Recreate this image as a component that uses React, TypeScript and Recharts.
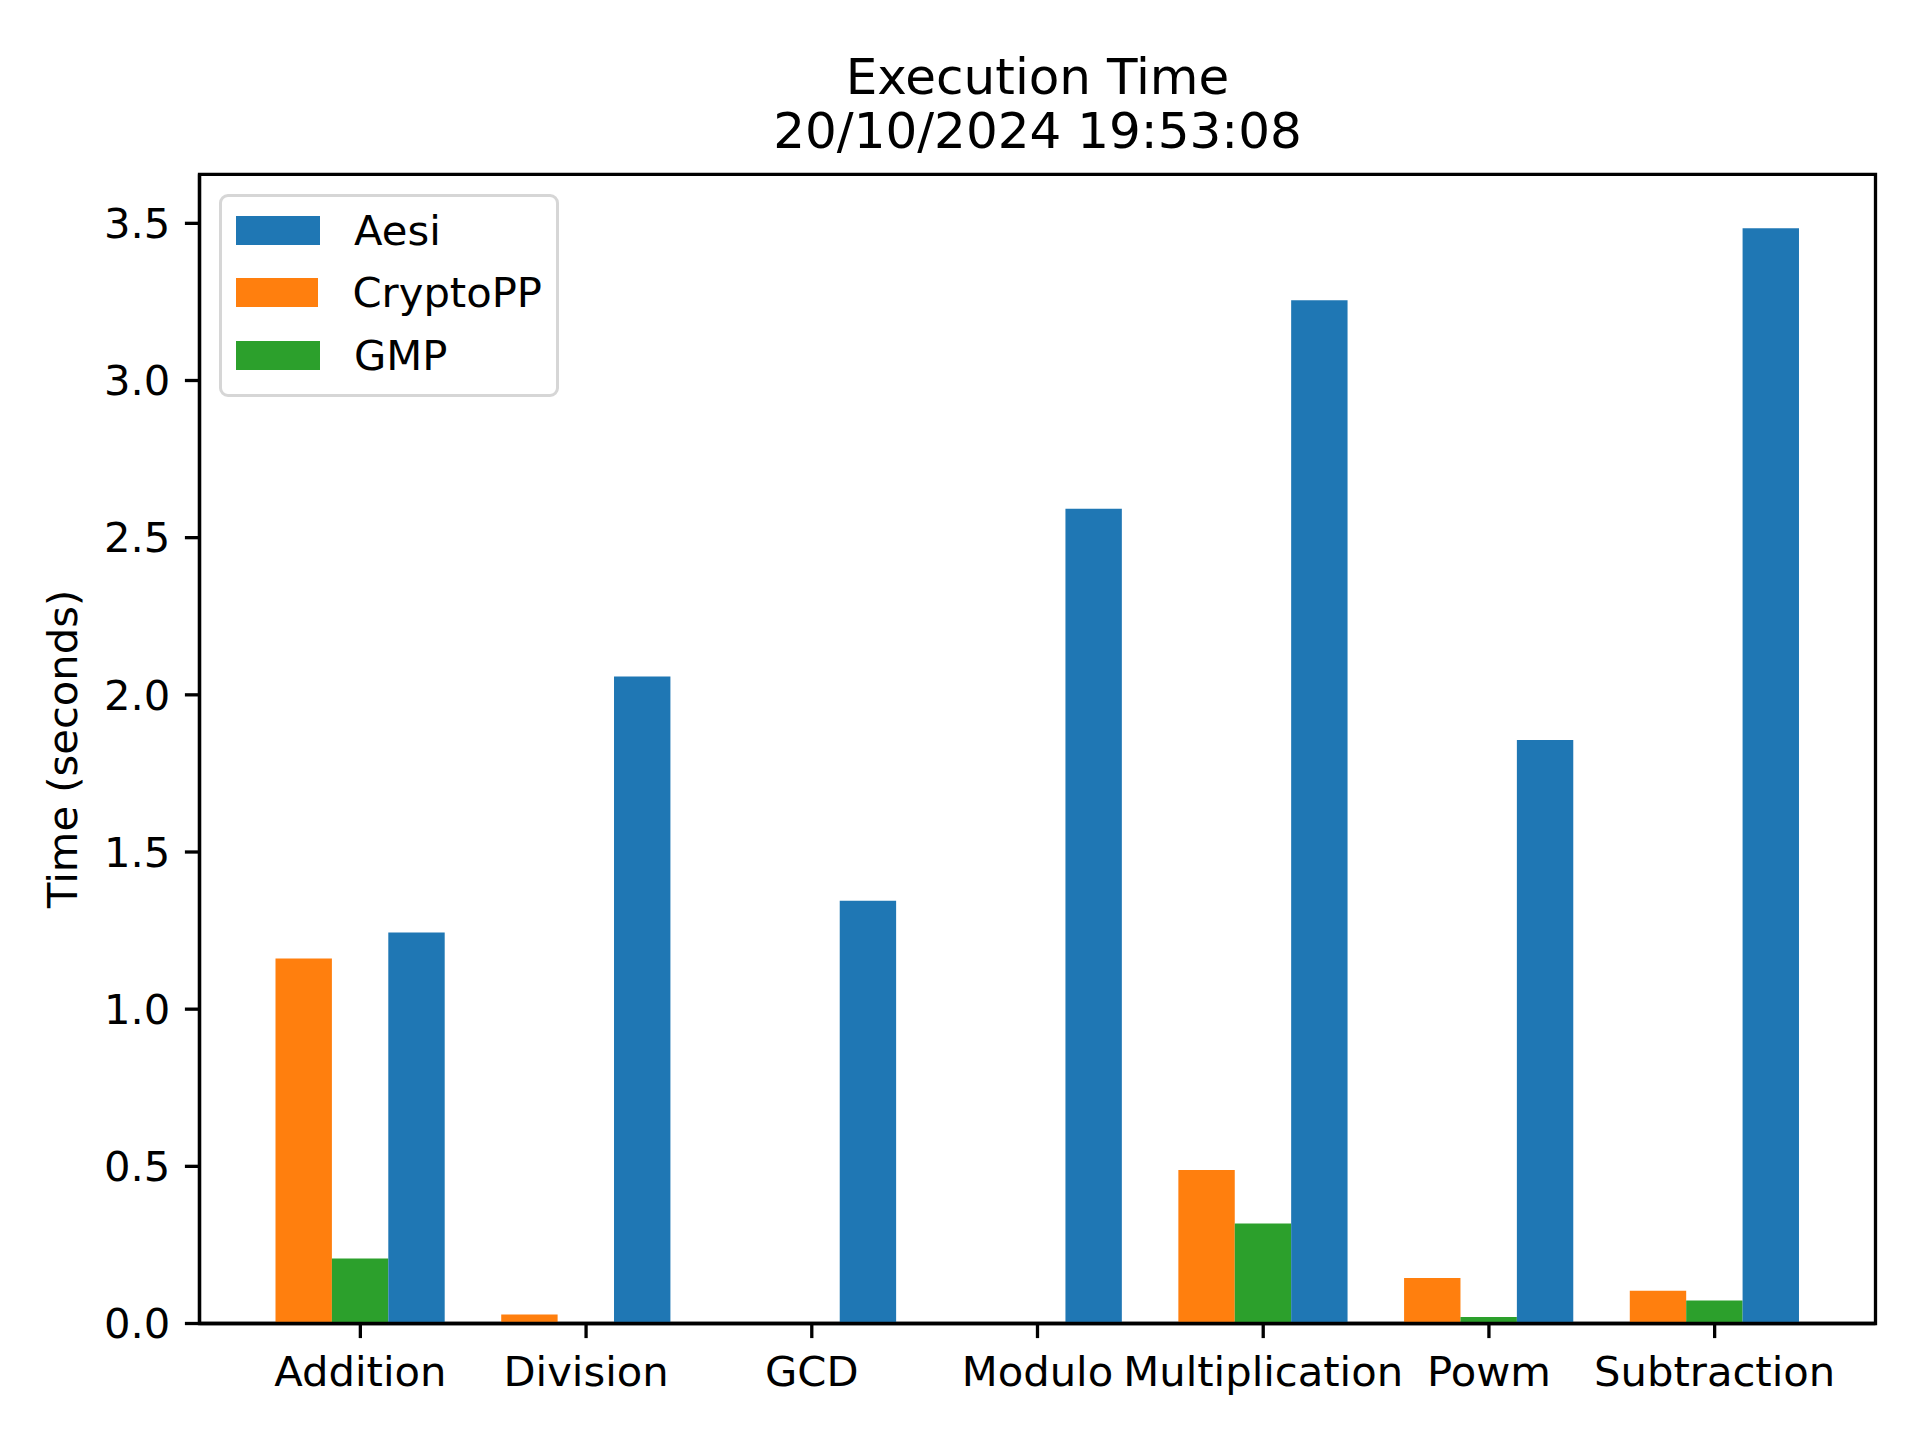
import { BarChart, Bar, XAxis, YAxis, Legend, ReferenceArea } from 'recharts';

const categories = ['Addition', 'Division', 'GCD', 'Modulo', 'Multiplication', 'Powm', 'Subtraction'];
const aesi = [1.244, 2.058, 1.345, 2.592, 3.255, 1.856, 3.484];
const cryptopp = [1.161, 0.029, 0.004, 0, 0.488, 0.145, 0.104];
const gmp = [0.207, 0, 0, 0, 0.318, 0.021, 0.073];
const yTicks = [0, 0.5, 1, 1.5, 2, 2.5, 3, 3.5];
const Y_MAX = 3.656;
const FRAME_MAX = categories.length - 1;

const legendItems = [
  { name: 'Aesi', color: '#1f77b4' },
  { name: 'CryptoPP', color: '#ff7f0e' },
  { name: 'GMP', color: '#2ca02c' },
];

const data = categories.map((name, i) => ({
  name,
  Aesi: aesi[i],
  CryptoPP: cryptopp[i],
  GMP: gmp[i],
}));

const FONT = '"DejaVu Sans", sans-serif';
const tickFont = { fill: '#000', fontSize: 41.7, fontFamily: FONT };
const spine = { stroke: '#000', strokeWidth: 3.3 };

const LegendBox = () => (
  <div
    style={{
      width: 340,
      height: 203,
      boxSizing: 'border-box',
      border: '3.3px solid #d6d6d6',
      borderRadius: 9,
      background: 'rgba(255,255,255,0.8)',
      padding: '2px 14px 0 14px',
      fontFamily: FONT,
      fontSize: 41.7,
      color: '#000',
    }}
  >
    {legendItems.map((item) => (
      <div key={item.name} style={{ height: 62.5, display: 'flex', alignItems: 'center' }}>
        <div style={{ width: 84, height: 29, background: item.color, marginRight: 34 }} />
        <span>{item.name}</span>
      </div>
    ))}
  </div>
);

const App = () => {
  return (
    <div style={{ position: 'absolute', left: 0, top: 0, width: 1920, height: 1440, background: '#fff' }}>
      <div
        style={{
          position: 'absolute',
          left: 199.5,
          width: 1676,
          top: 50,
          textAlign: 'center',
          fontFamily: FONT,
          fontSize: 50,
          lineHeight: '54px',
          color: '#000',
        }}
      >
        <div>Execution Time</div>
        <div>20/10/2024 19:53:08</div>
      </div>
      <BarChart
        width={1920}
        height={1440}
        data={data}
        margin={{ top: 174.3, right: 44.5, left: 49.5, bottom: 16.5 }}
        barGap={0}
        barSize={56.4}
      >
        <XAxis
          dataKey="name"
          height={100}
          padding={{ left: 48, right: 48 }}
          tick={tickFont}
          tickSize={14.6}
          tickMargin={18.5}
          tickLine={spine}
          axisLine={spine}
          interval={0}
        />
        <XAxis xAxisId="frame" type="number" domain={[0, FRAME_MAX]} allowDataOverflow hide />
        <YAxis
          width={150}
          domain={[0, Y_MAX]}
          ticks={yTicks}
          allowDataOverflow
          tickFormatter={(v: number) => v.toFixed(1)}
          tick={tickFont}
          tickSize={14.6}
          tickMargin={14.6}
          tickLine={spine}
          axisLine={spine}
          label={{
            value: 'Time (seconds)',
            angle: -90,
            position: 'insideLeft',
            offset: 13,
            style: { textAnchor: 'middle', fontSize: 41.7, fontFamily: FONT, fill: '#000' },
          }}
        />
        <Legend
          layout="horizontal"
          verticalAlign="middle"
          align="center"
          content={() => <LegendBox />}
          wrapperStyle={{ left: 219, top: 194, width: 'auto', height: 'auto' }}
        />
        <Bar dataKey="CryptoPP" fill="#ff7f0e" isAnimationActive={false} />
        <Bar dataKey="GMP" fill="#2ca02c" isAnimationActive={false} />
        <Bar dataKey="Aesi" fill="#1f77b4" isAnimationActive={false} />
        <ReferenceArea
          xAxisId="frame"
          x1={0}
          x2={FRAME_MAX}
          y1={0}
          y2={Y_MAX}
          fill="none"
          stroke="#000"
          strokeWidth={3.3}
          fillOpacity={0}
        />
      </BarChart>
    </div>
  );
};

export default App;
